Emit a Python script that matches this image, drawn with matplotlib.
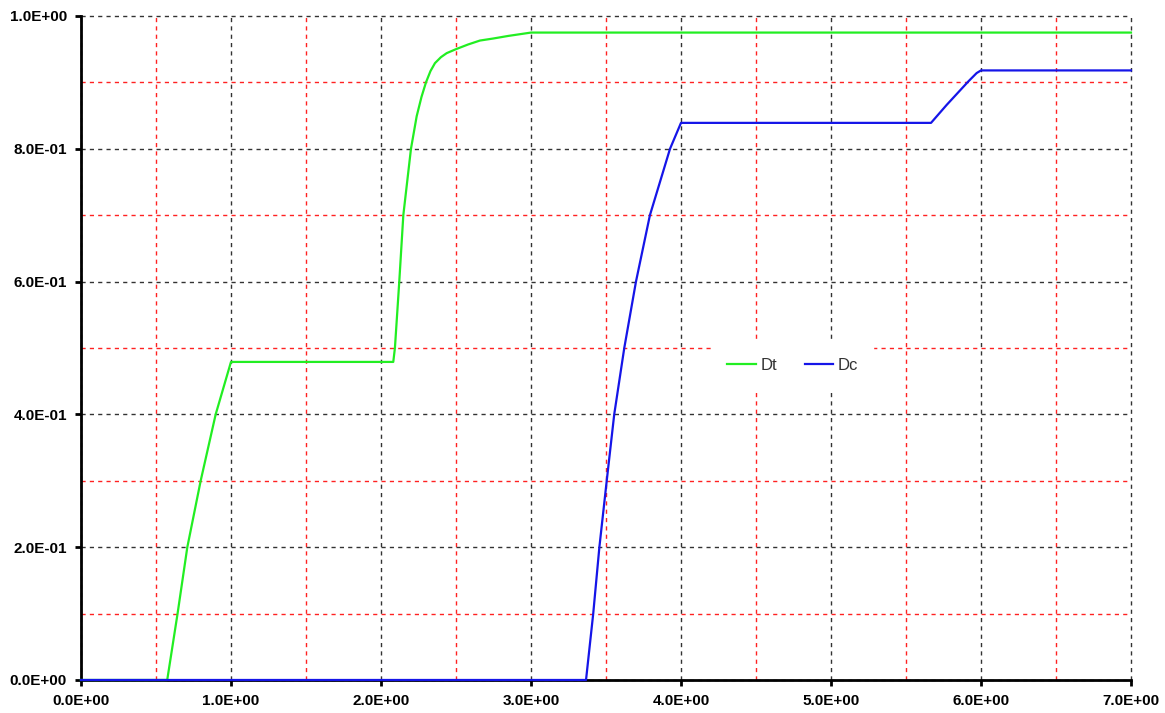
import matplotlib.pyplot as plt
from matplotlib.ticker import MultipleLocator, FuncFormatter

# values
dt_x = [0.0, 0.575, 0.644, 0.709, 0.798, 0.898, 1.0, 2.082, 2.093, 2.122, 2.149,
        2.20, 2.238, 2.27, 2.30, 2.33, 2.36, 2.40, 2.438, 2.5, 2.58, 2.66,
        2.747, 2.85, 3.0, 7.0]
dt_y = [0.0, 0.0, 0.1, 0.2, 0.3, 0.4, 0.479, 0.479, 0.5, 0.6, 0.7,
        0.8, 0.849, 0.878, 0.9, 0.917, 0.929, 0.938, 0.944, 0.950, 0.957, 0.963,
        0.966, 0.970, 0.975, 0.975]

dc_x = [0.0, 3.367, 3.415, 3.456, 3.505, 3.555, 3.622, 3.70, 3.793, 3.927, 4.0,
        5.667, 5.771, 5.916, 5.971, 6.0, 7.0]
dc_y = [0.0, 0.0, 0.1, 0.2, 0.3, 0.4, 0.5, 0.6, 0.7, 0.8, 0.839,
        0.839, 0.866, 0.9015, 0.914, 0.918, 0.918]


def sci_label(v, pos):
    return "%.1E" % v


fig = plt.figure(figsize=(11.65, 7.13), dpi=100)
ax = fig.add_axes([0.0695, 0.0463, 0.9013, 0.9313])

ax.plot(dt_x, dt_y, color="#22ee22", lw=1.6, label="Dt", clip_on=False, zorder=3)
ax.plot(dc_x, dc_y, color="#1515e8", lw=1.6, label="Dc", clip_on=False, zorder=3)

ax.set_xlim(0, 7)
ax.set_ylim(0, 1)
ax.xaxis.set_major_locator(MultipleLocator(1.0))
ax.xaxis.set_minor_locator(MultipleLocator(0.5))
ax.yaxis.set_major_locator(MultipleLocator(0.2))
ax.yaxis.set_minor_locator(MultipleLocator(0.1))
ax.xaxis.set_major_formatter(FuncFormatter(sci_label))
ax.yaxis.set_major_formatter(FuncFormatter(sci_label))

ax.grid(which="major", color="#333333", ls=(0, (3, 3)), lw=1)
ax.grid(which="minor", color="#ff2222", ls=(0, (3, 3)), lw=1)
ax.set_axisbelow(True)
for gl in ax.get_xgridlines() + ax.get_ygridlines():
    gl.set_clip_on(False)

for s in ["top", "right"]:
    ax.spines[s].set_visible(False)
for s in ["left", "bottom"]:
    ax.spines[s].set_linewidth(2)

ax.tick_params(which="major", length=4, width=2, pad=6)
ax.tick_params(which="minor", length=0)
for lab in ax.get_xticklabels() + ax.get_yticklabels():
    lab.set_fontfamily("Liberation Sans")
    lab.set_fontweight("bold")
    lab.set_fontsize(11)

leg = ax.legend(loc="center", bbox_to_anchor=(0.678, 0.474), ncol=2,
                frameon=True, fancybox=False, handlelength=1.7,
                columnspacing=1.65, handletextpad=0.3, borderpad=0.9,
                prop={"family": "Liberation Sans", "size": 12})
leg.get_frame().set_facecolor("white")
leg.get_frame().set_edgecolor("white")
leg.get_frame().set_alpha(1)
for t in leg.get_texts():
    t.set_color("#333333")

fig.savefig("out.png", dpi=100)
